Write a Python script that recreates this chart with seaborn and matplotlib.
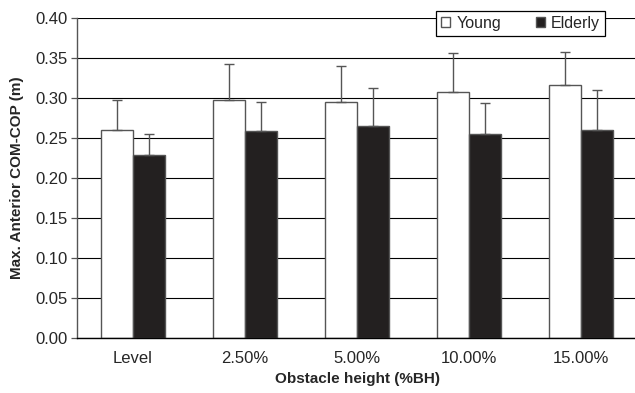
import matplotlib
matplotlib.use("Agg")
import matplotlib.pyplot as plt
import numpy as np
import pandas as pd
import seaborn as sns

heights = ["Level", "2.50%", "5.00%", "10.00%", "15.00%"]
groups = ["Young", "Elderly"]
young_mean = [0.260, 0.298, 0.295, 0.308, 0.316]
young_sd = [0.038, 0.045, 0.045, 0.048, 0.041]
elderly_mean = [0.229, 0.259, 0.265, 0.255, 0.260]
elderly_sd = [0.026, 0.036, 0.047, 0.039, 0.050]
yticks = [0.00, 0.05, 0.10, 0.15, 0.20, 0.25, 0.30, 0.35, 0.40]

df = pd.DataFrame({
    "height": heights * 2,
    "group": ["Young"] * 5 + ["Elderly"] * 5,
    "value": young_mean + elderly_mean,
    "sd": young_sd + elderly_sd,
})

sns.set_style("white")
plt.rcParams["font.family"] = ["Liberation Sans", "DejaVu Sans"]

fig = plt.figure(figsize=(6.35, 3.93), dpi=100)
ax = fig.add_axes([0.1213, 0.1399, 0.882, 0.8142])

sns.barplot(data=df, x="height", y="value", hue="group", order=heights,
            hue_order=groups, palette={"Young": "white", "Elderly": "#231f20"},
            width=0.57, edgecolor="#555555", linewidth=1.0, errorbar=None, ax=ax)

# upward-only error bars, placed on the bars seaborn drew
for patch_group, sds in zip(ax.containers, [young_sd, elderly_sd]):
    xs = [p.get_x() + p.get_width() / 2 for p in patch_group]
    ys = [p.get_height() for p in patch_group]
    ax.errorbar(xs, ys, yerr=[np.zeros(len(sds)), sds], fmt="none",
                ecolor="#555555", elinewidth=1.0, capsize=3.5, capthick=1.0, zorder=1.5)

ax.set_ylim(0, 0.40)
ax.set_xlim(-0.5, 4.5)
ax.set_yticks(yticks)
ax.set_yticklabels([f"{t:.2f}" for t in yticks], fontsize=12)
ax.yaxis.grid(True, color="black", linewidth=0.8)
ax.set_axisbelow(True)

ax.set_xticks(range(len(heights)))
ax.set_xticklabels(heights, fontsize=12)
ax.set_xticks(np.arange(-0.5, 5.0, 1.0), minor=True)
ax.tick_params(axis="x", which="major", length=0, pad=9)
ax.tick_params(axis="x", which="minor", length=4, width=0.9, color="#555555", direction="out")
ax.tick_params(axis="y", length=4, width=0.9, color="#555555", direction="out", left=True, pad=3)

for side in ["top", "right"]:
    ax.spines[side].set_visible(False)
ax.spines["left"].set_color("#555555")
ax.spines["left"].set_linewidth(1.0)
ax.spines["bottom"].set_color("black")
ax.spines["bottom"].set_linewidth(1.0)

ax.set_xlabel("Obstacle height (%BH)", fontsize=11, fontweight="bold", labelpad=5)
ax.set_ylabel("Max. Anterior COM-COP (m)", fontsize=11, fontweight="bold", labelpad=8)

ax.legend(title=None, ncol=2, loc="upper right", bbox_to_anchor=(605 / 635, 1 - 11 / 393),
          bbox_transform=fig.transFigure, borderaxespad=0, frameon=True, fancybox=False,
          edgecolor="black", framealpha=1, fontsize=11.5, handlelength=0.55, handleheight=0.55,
          handletextpad=0.4, columnspacing=2.2, borderpad=0.3)
ax.get_legend().get_frame().set_linewidth(0.9)

fig.savefig("out.png", dpi=100)
